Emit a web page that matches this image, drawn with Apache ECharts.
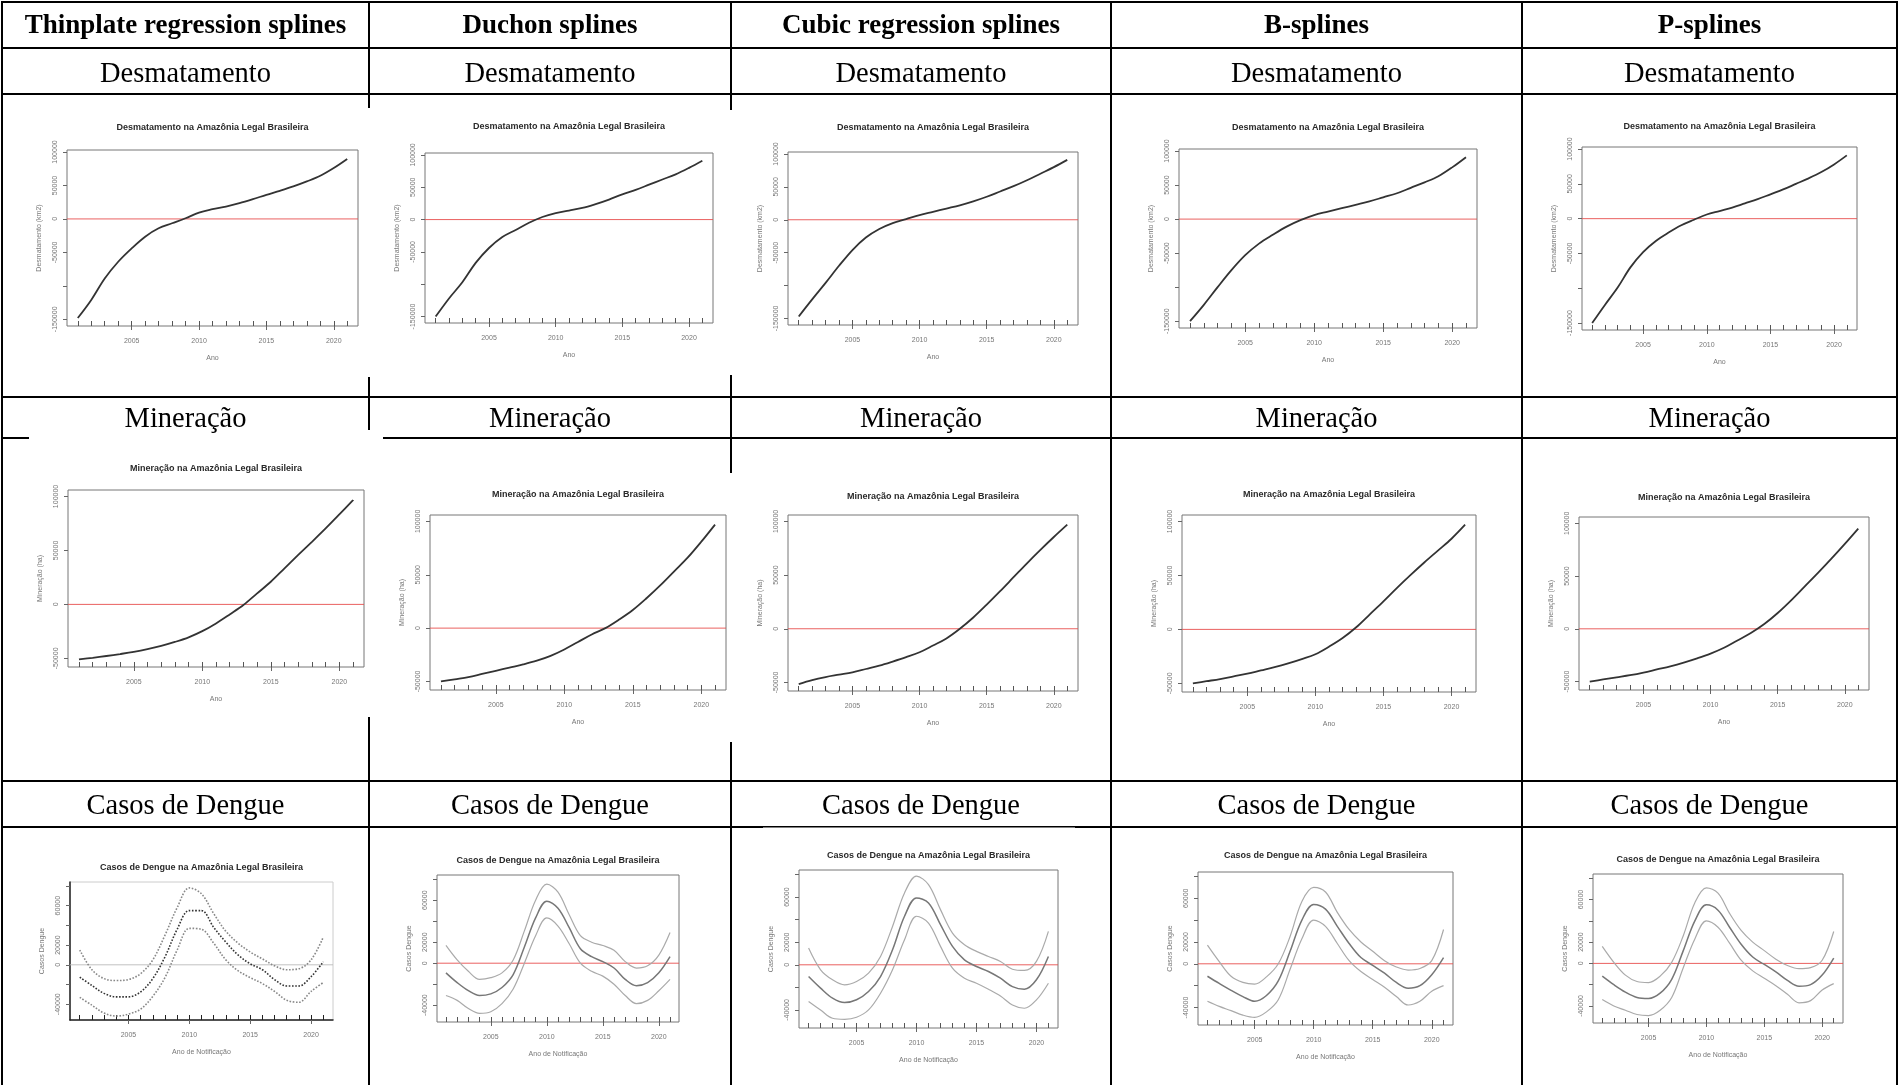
<!DOCTYPE html>
<html><head><meta charset="utf-8">
<script src="https://cdn.jsdelivr.net/npm/echarts@6/dist/echarts.min.js"></script>
<style>html,body{margin:0;padding:0;background:#fff}#c{width:1899px;height:1085px}</style>
</head><body><div id="c"></div>
<script>
// ---------- data ----------
const methods = ['Thinplate regression splines', 'Duchon splines', 'Cubic regression splines', 'B-splines', 'P-splines'];
const rowLabels = ['Desmatamento', 'Mineração', 'Casos de Dengue'];
const plotTitles = ['Desmatamento na Amazônia Legal Brasileira', 'Mineração na Amazônia Legal Brasileira', 'Casos de Dengue na Amazônia Legal Brasileira'];
const yNames = ['Desmatamento (km2)', 'Mineração (ha)', 'Casos Dengue'];
const xNames = ['Ano', 'Ano', 'Ano de Notificação'];
const years = [2001, 2002, 2003, 2004, 2005, 2006, 2007, 2008, 2009, 2010, 2011, 2012, 2013, 2014, 2015, 2016, 2017, 2018, 2019, 2020, 2021];
const yearTicks = [2005, 2010, 2015, 2020];
const xRange = [2000.2, 2021.8];
const zeroLevel = 0;
const desmatTicks = [-150000, -100000, -50000, 0, 50000, 100000];
const desmatTickLabels = [-150000, -50000, 0, 50000, 100000];
const minerTicks = [-50000, 0, 50000, 100000];
const minerTickLabels = [-50000, 0, 50000, 100000];
const dengueTicks = [-40000, -20000, 0, 20000, 40000, 60000, 80000];
const dengueTickLabels = [-40000, 0, 20000, 60000];

const desmatThin   = [-148000,-121000,-89000,-64000,-44000,-26500,-14000,-6500,1000,9500,14500,18500,23500,29500,36000,42000,48500,56000,64500,76000,89500];
const desmatDuchon = [-150000,-122000,-97000,-67000,-44000,-27000,-16000,-5000,4000,10000,14000,18000,24000,31000,39000,46000,54000,62000,70000,80000,91000];
const desmatCubic  = [-147000,-121000,-96000,-70000,-46000,-27000,-14000,-5000,1000,7000,12000,17000,22000,28000,35000,43000,51000,60000,70000,80000,91000];
const desmatB      = [-150000,-126000,-100000,-75000,-53000,-36000,-23000,-11000,-1500,6000,11000,16000,21000,26000,32000,38000,46000,54000,63000,76000,91000];
const desmatP      = [-150000,-124000,-99000,-70000,-48000,-32000,-20000,-9500,-1500,6000,11000,16000,22000,28000,35000,42000,50000,58000,67000,78000,91000];

const minerThin   = [-51000,-49500,-47800,-46000,-44000,-41500,-38500,-34800,-30500,-24800,-17600,-9300,-600,10200,21000,33400,45800,58000,70400,83400,96700];
const minerDuchon = [-50000,-48000,-46000,-43000,-40000,-37000,-34000,-30500,-26000,-20000,-13000,-6000,0,8000,17000,28000,40000,53000,66000,81000,97000];
const minerCubic  = [-51500,-47800,-45000,-42800,-40600,-37500,-34400,-30600,-26500,-21900,-15600,-9000,0,10500,22500,35000,48000,61000,73500,85500,97000];
const minerB      = [-50000,-48000,-46000,-43500,-41000,-38000,-35000,-31500,-27500,-23000,-16000,-8000,2000,14000,26000,38500,50500,62000,73000,84000,97000];
const minerP      = [-50000,-48000,-46000,-44000,-41500,-38500,-35500,-32000,-28000,-23500,-18000,-11000,-4000,4500,15000,27000,40000,53000,66500,80500,95000];

const dengueThinFit = [-12500,-21000,-29000,-32500,-32500,-27500,-14000,8000,36000,55000,55000,38000,23000,10000,1000,-5000,-15000,-21500,-21500,-12000,3000];
const dengueThinUp  = [15000,-5000,-14000,-16000,-15000,-9000,5000,30000,58000,78000,72000,52000,34000,22000,13000,6000,-1000,-5000,-4000,5000,28000];
const dengueThinLo  = [-33000,-41000,-49000,-52000,-50000,-45000,-32000,-13000,15000,37000,36000,22000,5000,-6000,-13000,-19000,-27000,-36000,-38000,-27000,-18000];
const dengueDuchonFit = [-9200,-18500,-26200,-30800,-29200,-23100,-10800,15400,43100,59100,52300,33800,13800,6200,1500,-4600,-15400,-21500,-18500,-9200,6200];
const dengueDuchonUp  = [16900,3100,-7700,-15400,-13800,-9200,3100,30800,60000,75400,67700,46200,26200,20000,16900,12300,1500,-4600,-2500,7700,29200];
const dengueDuchonLo  = [-30800,-35400,-43100,-47700,-46200,-38500,-24600,0,26200,43100,35400,18500,0,-7700,-12300,-20000,-30800,-38500,-35400,-26200,-15400];
const dengueCubicFit = [-10400,-20700,-29600,-33500,-31000,-23700,-10400,13300,43000,59300,54800,35600,16300,4400,-1500,-5900,-11900,-19300,-21600,-13300,7400];
const dengueCubicUp  = [14800,-4400,-13300,-17800,-14800,-7400,7400,34000,63700,78500,71100,48900,28100,17800,11900,7400,3000,-3900,-5000,3000,29600];
const dengueCubicLo  = [-32600,-40000,-47400,-48300,-46500,-40000,-25200,-4400,22200,43000,37000,16300,-3000,-11900,-16300,-21600,-27600,-35600,-38500,-31100,-16300];
const dengueBFit = [-11400,-18000,-24300,-30000,-34300,-29000,-15700,11400,40000,54300,50000,34300,18600,5700,-1400,-8600,-17100,-22300,-20000,-10000,5700];
const dengueBUp  = [17100,2000,-11400,-17000,-18600,-12000,0,25000,57100,70000,65700,47100,31400,20000,11400,2900,-2900,-5700,-4300,2900,31400];
const dengueBLo  = [-34300,-39000,-42900,-47000,-49100,-44000,-32900,-5000,22900,40000,34300,18600,2900,-7100,-14300,-21400,-30000,-37700,-34300,-25100,-20000];
const denguePFit = [-12000,-20000,-27000,-32000,-33000,-28000,-15000,12000,40000,55000,50000,34000,18000,6000,-1000,-8000,-16000,-21500,-20000,-11000,5000];
const denguePUp  = [16000,1000,-11000,-17000,-18000,-12000,1000,26000,57000,71000,66000,47000,31000,20000,12000,4000,-2000,-5000,-4000,3000,30000];
const denguePLo  = [-34000,-40000,-44000,-48000,-49000,-44000,-32000,-4000,23000,40000,34000,19000,3000,-7000,-14000,-21000,-29000,-37000,-35000,-25000,-19000];

// ---------- layout ----------
const colX = [2, 369, 731, 1111, 1522, 1897];
const rowY = [2, 48, 94, 397, 438, 781, 827];
const boxes = [
  [[67,150,358,326],[425,153,713,323],[788,152,1078,325],[1179,149,1477,328],[1582,147,1857,330]],
  [[68,490,364,667],[430,515,726,690],[788,515,1078,691],[1182,515,1476,692],[1579,517,1869,690]],
  [[70,882,333,1020],[437,875,679,1022],[799,870,1058,1028],[1198,872,1453,1025],[1593,874,1843,1023]]
];
const titleYs = [[128,127,128,128,127],[469,495,497,495,498],[868,861,856,856,860]];
const whiteRects = [[15,108,376,377],[725,110,1100,375],[29,430,383,717],[380,473,735,742],[763,827.5,1075,1085]];
const yRanges = [[-160000,103000],[-58000,106000],[-56000,84000]];

const rowData = [
  [[desmatThin],[desmatDuchon],[desmatCubic],[desmatB],[desmatP]],
  [[minerThin],[minerDuchon],[minerCubic],[minerB],[minerP]],
  [[dengueThinFit,dengueThinUp,dengueThinLo],[dengueDuchonFit,dengueDuchonUp,dengueDuchonLo],
   [dengueCubicFit,dengueCubicUp,dengueCubicLo],[dengueBFit,dengueBUp,dengueBLo],[denguePFit,denguePUp,denguePLo]]
];
const rowTicks = [[desmatTicks, desmatTickLabels],[minerTicks, minerTickLabels],[dengueTicks, dengueTickLabels]];

const SANS = 'Liberation Sans, Arial, sans-serif';
const SERIF = 'Liberation Serif, Times New Roman, serif';
const grid = [], xAxis = [], yAxis = [], series = [], graphic = [];
const plain = v => String(v);

// table lines
rowY.forEach(y => graphic.push({type:'line', z:1, shape:{x1:colX[0]-1, y1:y, x2:colX[5]+1, y2:y}, style:{stroke:'#000', lineWidth:2}}));
colX.forEach(x => graphic.push({type:'line', z:1, shape:{x1:x, y1:rowY[0]-1, x2:x, y2:1085}, style:{stroke:'#000', lineWidth:2}}));
whiteRects.forEach(r => graphic.push({type:'rect', z:2, shape:{x:r[0], y:r[1], width:r[2]-r[0], height:r[3]-r[1]}, style:{fill:'#fff'}}));
// header texts
methods.forEach((m, c) => graphic.push({type:'text', z:3, x:(colX[c]+colX[c+1])/2, y:26.5,
  style:{text:m, align:'center', verticalAlign:'middle', font:'bold 27px ' + SERIF, fill:'#000'}}));
const labelYs = [74.5, 419.5, 806.5];
rowLabels.forEach((lab, r) => methods.forEach((m, c) => graphic.push({type:'text', z:3, x:(colX[c]+colX[c+1])/2, y:labelYs[r],
  style:{text:lab, align:'center', verticalAlign:'middle', font:'28.5px ' + SERIF, fill:'#000'}})));

for (let r = 0; r < 3; r++) {
  for (let c = 0; c < 5; c++) {
    const k = r * 5 + c;
    const b = boxes[r][c];
    const special = (r === 2 && c === 0);
    graphic.push({type:'text', z:3, x:(b[0]+b[2])/2, y:titleYs[r][c],
      style:{text:plotTitles[r], align:'center', verticalAlign:'middle', font:'bold 9px ' + SANS, fill:'#2a2a2a'}});
    grid.push({left:b[0], top:b[1], width:b[2]-b[0], height:b[3]-b[1], show:true, z:4,
      borderColor: special ? '#ccc' : '#777', borderWidth:1, backgroundColor:'transparent'});
    const lab = {fontSize:7, color:'#777', fontFamily:SANS};
    xAxis.push({gridIndex:k, type:'value', min:xRange[0], max:xRange[1], z:5,
      axisLine:{show:special, onZero:false, lineStyle:{color:'#222', width:1.5}}, splitLine:{show:false},
      axisTick:{customValues:yearTicks, length:4, lineStyle:{color:'#666'}},
      axisLabel:Object.assign({customValues:yearTicks, margin:12, formatter:plain}, lab),
      name:xNames[r], nameLocation:'middle', nameGap:29, nameTextStyle:lab});
    xAxis.push({gridIndex:k, type:'value', min:xRange[0], max:xRange[1], position:'bottom', z:5,
      axisLine:{show:false, onZero:false}, splitLine:{show:false}, axisLabel:{show:false},
      axisTick:{customValues:years, inside:true, length:5, lineStyle:{color:special ? '#222' : '#555'}}});
    yAxis.push({gridIndex:k, type:'value', min:yRanges[r][0], max:yRanges[r][1], z:5,
      axisLine:{show:special, onZero:false, lineStyle:{color:'#222', width:1.5}}, splitLine:{show:false},
      axisTick:{customValues:rowTicks[r][0], length:4, lineStyle:{color:'#666'}},
      axisLabel:Object.assign({customValues:rowTicks[r][1], rotate:90, margin:8, formatter:plain}, lab),
      name:yNames[r], nameLocation:'middle', nameGap:24, nameRotate:90, nameTextStyle:lab});
    // zero reference line (abline h=0)
    series.push({type:'line', xAxisIndex:2*k, yAxisIndex:k, z:5, showSymbol:false, silent:true, animation:false,
      data:[[xRange[0], zeroLevel], [xRange[1], zeroLevel]],
      lineStyle:{color: special ? '#bbb' : '#e8504f', width:1, opacity:0.9}});
    const sets = rowData[r][c];
    sets.forEach((vals, si) => {
      let ls;
      if (r < 2) ls = {color:'#333', width:1.8};
      else if (special) ls = {color: si === 0 ? '#333' : '#888', width:1.6, type:'dotted'};
      else ls = {color: si === 0 ? '#777' : '#aaa', width: si === 0 ? 1.5 : 1.2};
      series.push({type:'line', xAxisIndex:2*k, yAxisIndex:k, z:6, showSymbol:false, smooth:0.35, silent:true,
        data: years.map((y, i) => [y, vals[i]]), lineStyle:ls, animation:false});
    });
  }
}

const chart = echarts.init(document.getElementById('c'));
chart.setOption({animation:false, grid, xAxis, yAxis, series, graphic:{elements:graphic}});
</script>
</body></html>
